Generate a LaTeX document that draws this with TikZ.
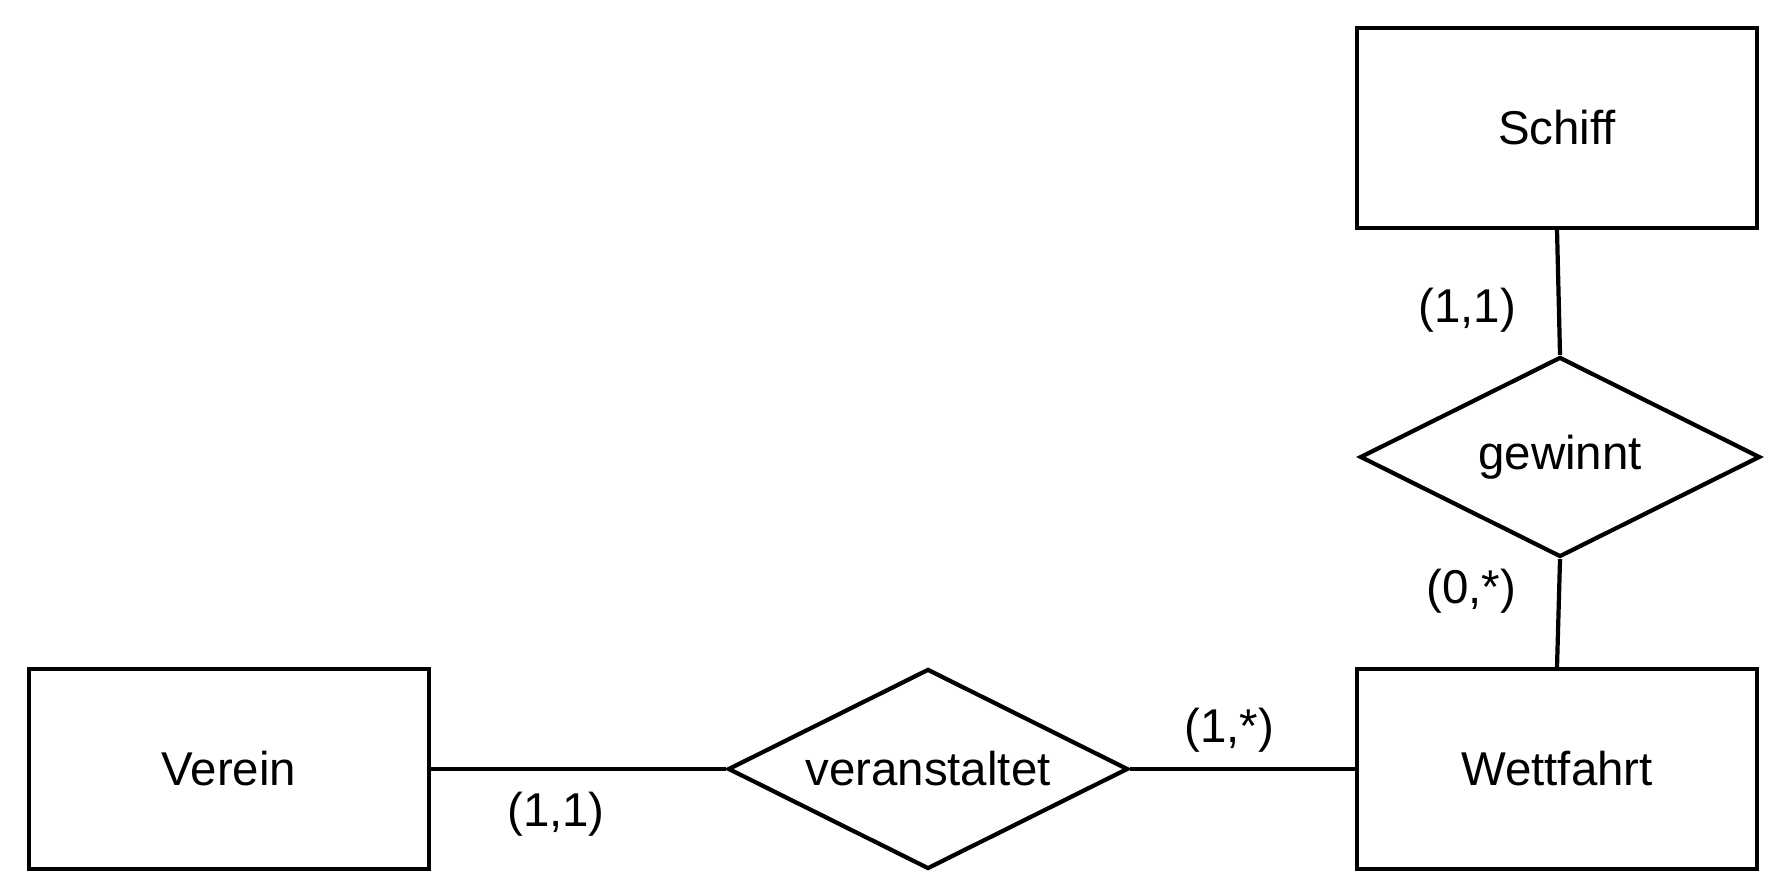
\documentclass[tikz,border=0pt]{standalone}
\usepackage{fontspec}
\setmainfont{Liberation Sans}
\usetikzlibrary{shapes.geometric}

\begin{document}
\begin{tikzpicture}[entity/.style = {draw, rectangle, line width=1.2pt, minimum width=4cm, minimum height=2cm},
	relation/.style = {draw, diamond, line width=1.2pt, inner sep=0pt, shape aspect=2, minimum width=4cm, minimum height=2cm}]
				\useasboundingbox (0,0) rectangle (17.88,8.96);
				\begin{scope}[every node/.style={font=\fontsize{13.5pt}{16pt}\selectfont}]
					\node[entity] (schiff) at (15.57,7.68) {Schiff};
					\node[entity] (verein) at (2.29,1.27) {Verein};
					\node[entity] (wettfahrt) at (15.57,1.27) {Wettfahrt};
					\node[relation] (veranstaltet) at (9.28,1.27) {veranstaltet};
					\node[relation] (gewinnt) at (15.60,4.39) {gewinnt};
					\node (c1) at (5.56,0.82) {(1,1)};
					\node (c2) at (12.29,1.66) {(1,*)};
					\node (c3) at (14.67,5.86) {(1,1)};
					\node (c4) at (14.71,3.05) {(0,*)};
				\end{scope}
				\draw [line width=1.2pt,black] (verein.east) -- (veranstaltet.west);
				\draw [line width=1.2pt,black] (veranstaltet.east) -- (wettfahrt.west);
				\draw [line width=1.2pt,black] (schiff.south) -- (gewinnt.north);
				\draw [line width=1.2pt,black] (gewinnt.south) -- (wettfahrt.north);
			\end{tikzpicture}
\end{document}
